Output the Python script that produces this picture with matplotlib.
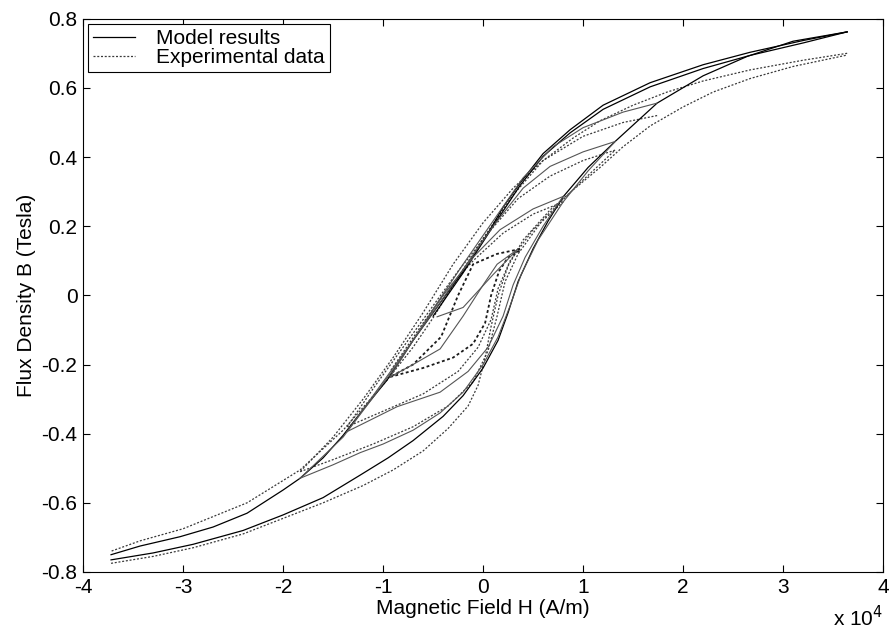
import numpy as np
import matplotlib
matplotlib.use("Agg")
import matplotlib.pyplot as plt

plt.rcParams['font.family'] = ['Liberation Sans', 'DejaVu Sans']
plt.rcParams['axes.unicode_minus'] = False

# H in units of 1e4 A/m, B in Tesla
# ---- model results (solid) ----
mu_h = [3.64, 3.2, 2.67, 2.2, 1.67, 1.2, 0.87, 0.6, 0.37, 0.2, 0.07, -0.15, -0.4, -0.7,
        -0.96, -1.2, -1.4, -1.6, -1.83, -2.0, -2.36, -2.7, -3.03, -3.43, -3.72]
mu_b = [0.762, 0.737, 0.703, 0.667, 0.615, 0.55, 0.479, 0.41, 0.325, 0.255, 0.19, 0.09, -0.01,
        -0.13, -0.245, -0.33, -0.405, -0.47, -0.529, -0.563, -0.63, -0.67, -0.698, -0.725, -0.75]
mu2_h = [3.64, 3.2, 2.67, 2.2, 1.67, 1.2, 0.87, 0.6, 0.37, 0.1, -0.2, -0.5]
mu2_b = [0.762, 0.73, 0.694, 0.656, 0.603, 0.538, 0.47, 0.402, 0.318, 0.2, 0.065, -0.06]
ml_h = [-3.72, -3.3, -2.9, -2.4, -2.0, -1.6, -1.23, -0.95, -0.7, -0.4, -0.2, 0.0, 0.15,
        0.25, 0.35, 0.5, 0.65, 0.8, 1.05, 1.32, 1.74, 2.2, 2.64, 3.1, 3.64]
ml_b = [-0.765, -0.745, -0.72, -0.68, -0.635, -0.585, -0.52, -0.47, -0.42, -0.35, -0.29,
        -0.21, -0.13, -0.05, 0.04, 0.135, 0.215, 0.285, 0.37, 0.445, 0.556, 0.635, 0.691,
        0.735, 0.762]

# minor loops of the model (reversal points U1..U4 / L1..L4)
md1_h = [1.74, 1.4, 1.0, 0.7, 0.4, 0.1, -0.2, -0.5, -0.8, -1.1, -1.4, -1.83]
md1_b = [0.556, 0.53, 0.485, 0.43, 0.34, 0.215, 0.09, -0.04, -0.175, -0.295, -0.41, -0.529]
ma1_h = [-1.83, -1.5, -1.23, -1.0, -0.7, -0.43, -0.2, 0.0, 0.15, 0.27, 0.38, 0.55, 0.8, 1.05, 1.32]
ma1_b = [-0.529, -0.49, -0.455, -0.43, -0.39, -0.34, -0.28, -0.2, -0.12, -0.03, 0.06,
         0.16, 0.27, 0.36, 0.445]
md2_h = [1.32, 1.0, 0.67, 0.4, 0.1, -0.2, -0.5, -0.8, -1.1, -1.36]
md2_b = [0.445, 0.415, 0.373, 0.31, 0.2, 0.075, -0.05, -0.17, -0.29, -0.394]
ma2_h = [-1.36, -0.86, -0.43, -0.15, 0.05, 0.2, 0.3, 0.42, 0.6, 0.8]
ma2_b = [-0.394, -0.322, -0.28, -0.22, -0.15, -0.06, 0.03, 0.11, 0.2, 0.286]
md3_h = [0.8, 0.5, 0.17, -0.1, -0.4, -0.7, -0.93]
md3_b = [0.286, 0.25, 0.19, 0.11, 0.0, -0.13, -0.236]
ma3_h = [-0.93, -0.7, -0.43, -0.2, 0.0, 0.14, 0.34]
ma3_b = [-0.236, -0.2, -0.155, -0.06, 0.03, 0.09, 0.132]
md4_h = [0.34, 0.1, -0.2, -0.46]
md4_b = [0.132, 0.06, -0.035, -0.062]

# ---- experimental data (dotted) ----
eu_h = [3.64, 3.2, 2.67, 2.2, 1.84, 1.5, 1.17, 0.9, 0.6, 0.3, 0.0, -0.2, -0.35, -0.5, -0.7,
        -0.96, -1.4, -1.83, -2.36, -3.0, -3.43, -3.72]
eu_b = [0.70, 0.68, 0.652, 0.62, 0.588, 0.55, 0.505, 0.455, 0.39, 0.29, 0.165, 0.075, 0.005,
        -0.065, -0.15, -0.245, -0.39, -0.505, -0.6, -0.675, -0.71, -0.74]
el_h = [-3.72, -3.3, -2.9, -2.4, -2.0, -1.6, -1.2, -0.9, -0.6, -0.35, -0.15, -0.05, 0.02,
        0.08, 0.15, 0.25, 0.4, 0.67, 0.9, 1.17, 1.4, 1.67, 2.0, 2.3, 2.67, 3.1, 3.64]
el_b = [-0.775, -0.755, -0.73, -0.69, -0.645, -0.6, -0.55, -0.505, -0.45, -0.385, -0.32,
        -0.26, -0.18, -0.09, 0.0, 0.085, 0.16, 0.247, 0.305, 0.37, 0.43, 0.49, 0.545, 0.588,
        0.627, 0.662, 0.695]
ed1_h = [1.74, 1.4, 1.0, 0.6, 0.3, 0.0, -0.3, -0.6, -0.9, -1.2, -1.5, -1.83]
ed1_b = [0.52, 0.5, 0.46, 0.39, 0.31, 0.21, 0.09, -0.05, -0.18, -0.3, -0.41, -0.51]
ea1_h = [-1.83, -1.5, -1.1, -0.7, -0.35, -0.1, 0.05, 0.14, 0.22, 0.35, 0.6, 0.95, 1.32]
ea1_b = [-0.51, -0.475, -0.43, -0.38, -0.32, -0.25, -0.16, -0.06, 0.04, 0.12, 0.22, 0.32, 0.42]
ed2_h = [1.32, 1.0, 0.67, 0.35, 0.05, -0.25, -0.55, -0.85, -1.1, -1.36]
ed2_b = [0.42, 0.39, 0.345, 0.28, 0.18, 0.07, -0.05, -0.17, -0.27, -0.38]
ea2_h = [-1.36, -1.0, -0.6, -0.25, -0.05, 0.08, 0.15, 0.27, 0.5, 0.8]
ea2_b = [-0.38, -0.335, -0.285, -0.22, -0.15, -0.07, 0.02, 0.1, 0.19, 0.27]
ed3_h = [0.8, 0.5, 0.2, -0.1, -0.35, -0.6, -0.93]
ed3_b = [0.27, 0.235, 0.18, 0.1, 0.02, -0.08, -0.22]
ea3_h = [-0.93, -0.6, -0.3, -0.1, 0.02, 0.08, 0.16, 0.25, 0.37]
ea3_b = [-0.236, -0.21, -0.18, -0.14, -0.08, 0.0, 0.07, 0.11, 0.13]
ed4_h = [0.37, 0.14, -0.1, -0.25, -0.42, -0.7, -0.93]
ed4_b = [0.134, 0.12, 0.09, 0.0, -0.12, -0.2, -0.236]

xticks = [-4, -3, -2, -1, 0, 1, 2, 3, 4]
yticks = [-0.8, -0.6, -0.4, -0.2, 0, 0.2, 0.4, 0.6, 0.8]
ytick_labels = ['-0.8', '-0.6', '-0.4', '-0.2', '0', '0.2', '0.4', '0.6', '0.8']

fig = plt.figure(figsize=(8.91, 6.33), dpi=100)
ax = fig.add_axes([0.0932, 0.0964, 0.898, 0.874])

dot = (0, (1.6, 1.4))
ecol = '#3a3a3a'
exp_curves = [(eu_h, eu_b), (el_h, el_b), (ed1_h, ed1_b), (ea1_h, ea1_b), (ed2_h, ed2_b),
              (ea2_h, ea2_b), (ed3_h, ed3_b)]
for h, b in exp_curves:
    ax.plot(h, b, color=ecol, lw=0.9, ls=dot)
# the darker experimental stretches near the origin
for h, b in [(ea3_h, ea3_b), (ed4_h, ed4_b)]:
    ax.plot(h, b, color='#1a1a1a', lw=1.3, ls=dot)

for h, b in [(mu_h, mu_b), (mu2_h, mu2_b), (ml_h, ml_b)]:
    ax.plot(h, b, color='black', lw=0.9)
minor = [(md1_h, md1_b), (ma1_h, ma1_b), (md2_h, md2_b), (ma2_h, ma2_b),
         (md3_h, md3_b), (ma3_h, ma3_b), (md4_h, md4_b)]
for h, b in minor:
    ax.plot(h, b, color='#555555', lw=0.8)

ax.set_xlim(-4, 4)
ax.set_ylim(-0.8, 0.8)
ax.set_xticks(xticks)
ax.set_yticks(yticks)
ax.set_yticklabels(ytick_labels)
ax.tick_params(direction='in', length=5, width=0.8, top=True, right=True,
               labelsize=15, pad=4)
for s in ax.spines.values():
    s.set_linewidth(0.8)

ax.set_xlabel('Magnetic Field H (A/m)', fontsize=15, labelpad=2)
ax.set_ylabel('Flux Density B (Tesla)', fontsize=15, labelpad=4)
fig.text(0.935, 0.004, r'x 10$^{4}$', fontsize=15, ha='left', va='bottom')

h1, = ax.plot([], [], color='black', lw=0.9)
h2, = ax.plot([], [], color=ecol, lw=0.9, ls=dot)
leg = ax.legend([h1, h2], ['Model results', 'Experimental data'], loc='upper left',
                fontsize=15, fancybox=False, framealpha=1, edgecolor='black',
                borderaxespad=0.25, handlelength=2.0, handletextpad=1.0,
                labelspacing=0.0, borderpad=0.25)
leg.get_frame().set_linewidth(0.8)

fig.savefig('out.png', dpi=100)
